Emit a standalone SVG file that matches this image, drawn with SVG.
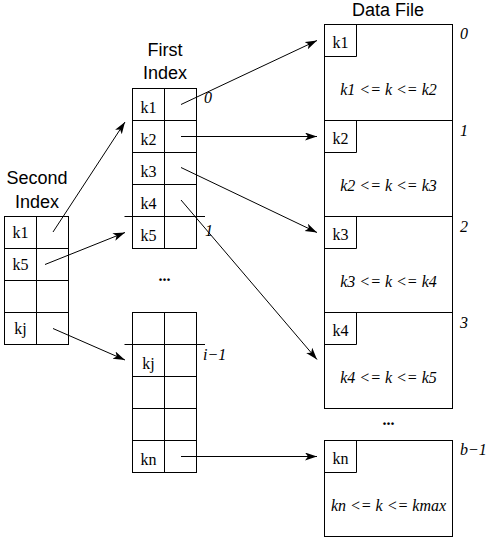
<svg xmlns="http://www.w3.org/2000/svg" width="490" height="538" viewBox="0 0 490 538">
<style>
.box{fill:none;stroke:#000;stroke-width:1}
.ln{fill:none;stroke:#000;stroke-width:1}
.title{font-family:"Liberation Sans",Arial,sans-serif;font-size:18px;text-anchor:middle}
.key{font-family:"Liberation Serif","Times New Roman",serif;font-size:16px;text-anchor:middle}
.rng{font-family:"Liberation Serif","Times New Roman",serif;font-size:16px;font-style:italic;text-anchor:middle}
.lab{font-family:"Liberation Serif","Times New Roman",serif;font-size:16px;font-style:italic}
.dots{font-family:"Liberation Serif","Times New Roman",serif;font-size:16px;text-anchor:middle;font-weight:bold}
.arr{fill:none;stroke:#000;stroke-width:1;marker-end:url(#ah)}
</style>
<defs>
<marker id="ah" markerUnits="userSpaceOnUse" markerWidth="13" markerHeight="9" refX="12" refY="4" orient="auto">
<path d="M0,0 L12,4 L0,8 L3,4 z" fill="#000"/>
</marker>
</defs>
<rect width="490" height="538" fill="#fff"/>

<g id="second-index">
<text class="title" x="37" y="184">Second</text>
<text class="title" x="37" y="208">Index</text>
<rect class="box" x="4.5" y="216.5" width="64" height="128"/>
<path class="ln" d="M36.5,216.5V344.5M4.5,248.5H68.5M4.5,280.5H68.5M4.5,312.5H68.5"/>
<text class="key" x="20.5" y="238">k1</text>
<text class="key" x="20.5" y="270">k5</text>
<text class="key" x="20.5" y="334">kj</text>
</g>

<g id="first-index-top">
<text class="title" x="165" y="56">First</text>
<text class="title" x="165" y="79">Index</text>
<rect class="box" x="132.5" y="88.5" width="64" height="160"/>
<path class="ln" d="M164.5,88.5V248.5M132.5,120.5H196.5M132.5,152.5H196.5M132.5,184.5H196.5M124.5,216.5H205"/>
<text class="key" x="148.5" y="113">k1</text>
<text class="key" x="148.5" y="145">k2</text>
<text class="key" x="148.5" y="177">k3</text>
<text class="key" x="148.5" y="209">k4</text>
<text class="key" x="148.5" y="241">k5</text>
<text class="lab" x="204" y="103">0</text>
<text class="lab" x="205" y="236">1</text>
</g>

<text class="dots" x="164.5" y="281">...</text>

<g id="first-index-bottom">
<rect class="box" x="132.5" y="312.5" width="64" height="160"/>
<path class="ln" d="M164.5,312.5V472.5M124.5,344.5H205M132.5,376.5H196.5M132.5,408.5H196.5M132.5,440.5H196.5"/>
<text class="key" x="148.5" y="369">kj</text>
<text class="key" x="148.5" y="465">kn</text>
<text class="lab" x="203" y="360">i−1</text>
</g>

<g id="data-file">
<text class="title" x="388" y="16">Data File</text>
<rect class="box" x="324.5" y="24.5" width="128" height="384"/>
<path class="ln" d="M324.5,120.5H452.5M324.5,216.5H452.5M324.5,312.5H452.5"/>
<path class="ln" d="M356.5,24.5V56.5H324.5M356.5,120.5V152.5H324.5M356.5,216.5V248.5H324.5M356.5,312.5V344.5H324.5"/>
<text class="key" x="340.5" y="48">k1</text>
<text class="key" x="340.5" y="144">k2</text>
<text class="key" x="340.5" y="240">k3</text>
<text class="key" x="340.5" y="336">k4</text>
<text class="rng" x="388.5" y="95">k1 &lt;= k &lt;= k2</text>
<text class="rng" x="388.5" y="191">k2 &lt;= k &lt;= k3</text>
<text class="rng" x="388.5" y="287">k3 &lt;= k &lt;= k4</text>
<text class="rng" x="388.5" y="383">k4 &lt;= k &lt;= k5</text>
<text class="lab" x="460" y="39">0</text>
<text class="lab" x="460" y="136">1</text>
<text class="lab" x="460" y="232">2</text>
<text class="lab" x="460" y="328">3</text>
</g>

<text class="dots" x="388.5" y="425">...</text>

<g id="data-last">
<rect class="box" x="324.5" y="440.5" width="128" height="96"/>
<path class="ln" d="M356.5,440.5V472.5H324.5"/>
<text class="key" x="340.5" y="464">kn</text>
<text class="rng" x="388.5" y="511">kn &lt;= k &lt;= kmax</text>
<text class="lab" x="460" y="455">b−1</text>
</g>

<g id="connectors">
<line class="arr" x1="53" y1="232" x2="125" y2="122"/>
<line class="arr" x1="45" y1="264.5" x2="125" y2="232.5"/>
<line class="arr" x1="53" y1="328.5" x2="125" y2="360"/>
<line class="arr" x1="181" y1="104.5" x2="317" y2="40.5"/>
<line class="arr" x1="181" y1="136.5" x2="317" y2="136.5"/>
<line class="arr" x1="181" y1="167.5" x2="317" y2="232.5"/>
<line class="arr" x1="181" y1="200" x2="317" y2="359.5"/>
<line class="arr" x1="181" y1="456.5" x2="317" y2="456.5"/>
</g>
</svg>
